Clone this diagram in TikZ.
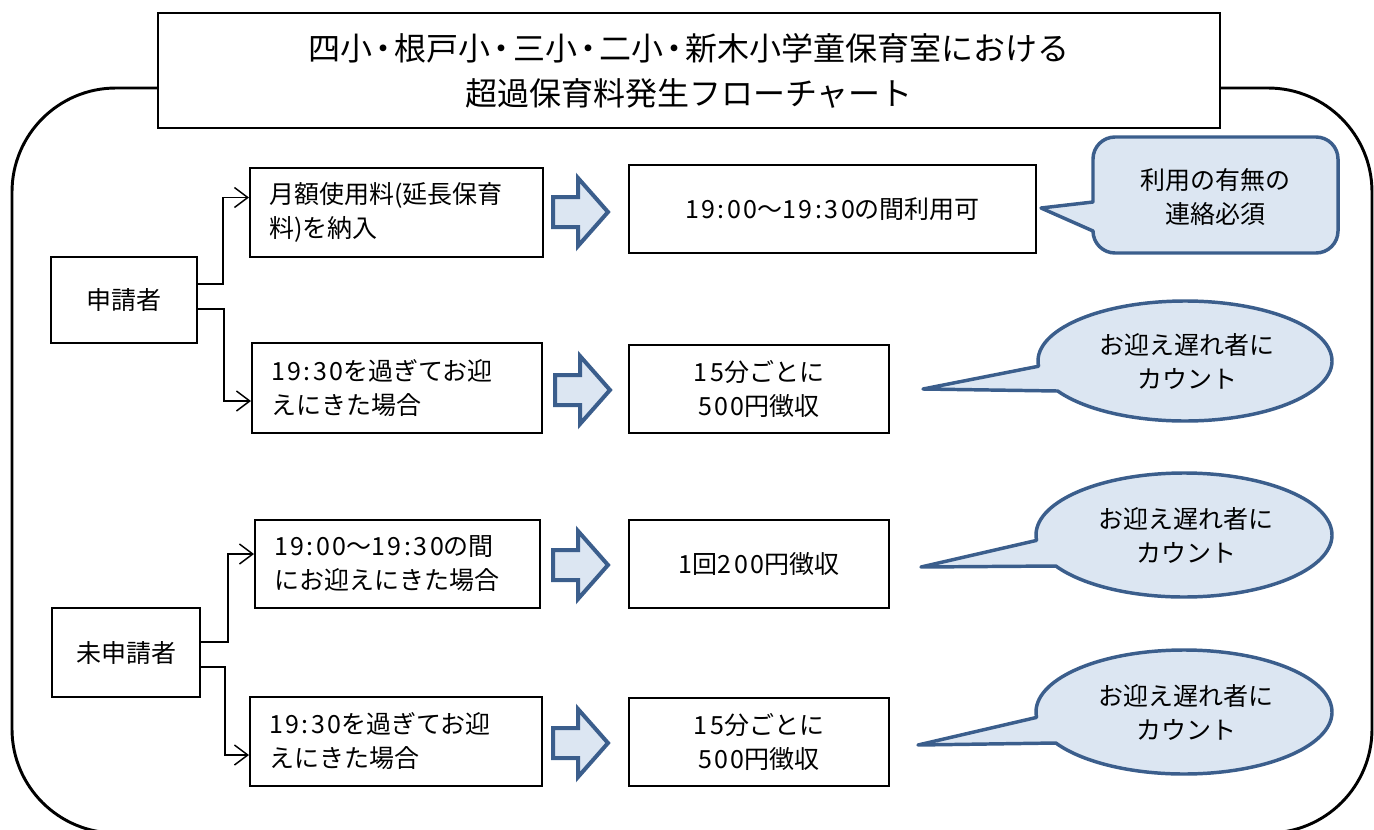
\documentclass[tikz,border=0pt]{standalone}
\usepackage{fontspec}
\setmainfont{Noto Sans CJK JP}
\usetikzlibrary{arrows.meta,calc}
\definecolor{cfill}{HTML}{DCE6F2}
\definecolor{cline}{HTML}{3B5E8C}
\newcommand\mdot{\kern-0.15em・\kern-0.15em}
\newcommand\nm[1]{{\addfontfeature{LetterSpace=10}#1}}
\begin{document}
\begin{tikzpicture}[x=0.75pt,y=-0.75pt,
  txt/.style={font=\fontsize{18.75pt}{25.5pt}\selectfont},
  box/.style={txt, draw, line width=1.5pt, inner sep=0pt},
  lbox/.style={box, align=left, inner xsep=14.25pt},
  cbox/.style={box, align=center},
  conn/.style={line width=1.1pt, -{Straight Barb[length=10pt,width=15pt,line width=1.1pt]}},
  callout/.style={draw=cline, fill=cfill, line width=2.6pt, line join=round},
  barrow/.pic={\draw[line width=3pt, draw=cline, fill=cfill, line join=miter]
     (0,-15) -- (25,-15) -- (25,-34) -- (55,0) -- (25,34) -- (25,15) -- (0,15) -- cycle;}
]
\useasboundingbox (0,0) rectangle (1374,829);
% outer frame
\draw[line width=2.2pt, rounded corners=78pt] (12,88) rectangle (1372,833);
% title
\node[draw, fill=white, line width=2pt, minimum width=796.5pt, minimum height=86.25pt,
      align=center, font=\fontsize{24pt}{33.75pt}\selectfont] (title) at (689,70.5)
  {四小\mdot 根戸小\mdot 三小\mdot 二小\mdot 新木小学童保育室における\\超過保育料発生フローチャート};
% applicant boxes
\node[cbox, minimum width=109.5pt, minimum height=64.5pt] (p1) at (124,300) {申請者};
\node[cbox, minimum width=111pt, minimum height=66.75pt] (p2) at (126,652.5) {未申請者};
% condition boxes
\node[lbox, text width=191.25pt, minimum height=66.75pt] (a1) at (396.5,212.5) {月額使用料(延長保育\\料)を納入};
\node[lbox, text width=189pt, minimum height=67.5pt] (a2) at (397,388) {\nm{19:30}を過ぎてお迎\\えにきた場合};
\node[lbox, text width=185.25pt, minimum height=66pt] (b1) at (397.5,564) {\nm{19:00}〜\nm{19:30}の間\\にお迎えにきた場合};
\node[lbox, text width=190.5pt, minimum height=66.75pt] (b2) at (396,741.5) {\nm{19:30}を過ぎてお迎\\えにきた場合};
% result boxes
\node[cbox, minimum width=305.25pt, minimum height=66pt] (r1) at (832.5,209) {\nm{19:00}〜\nm{19:30}の間利用可};
\node[cbox, minimum width=195pt, minimum height=66pt] (r2) at (759,389) {\nm{15}分ごとに\\\nm{500}円徴収};
\node[cbox, minimum width=195pt, minimum height=66pt] (r3) at (759,564) {\nm{1}回\nm{200}円徴収};
\node[cbox, minimum width=195pt, minimum height=66pt] (r4) at (759,742) {\nm{15}分ごとに\\\nm{500}円徴収};
% connectors
\draw[conn] ($(p1.east)+(0,-16)$) -- ++(25,0) |- ($(a1.west)+(0,-15)$);
\draw[conn] ($(p1.east)+(0,9)$) -- ++(26,0) |- ($(a2.west)+(0,13)$);
\draw[conn] ($(p2.east)+(0,-10.5)$) -- ++(27,0) |- ($(b1.west)+(0,-10)$);
\draw[conn] ($(p2.east)+(0,14.5)$) -- ++(24,0) |- ($(b2.west)+(0,13.5)$);
% block arrows
\pic at (553,212) {barrow};
\pic at (555,390) {barrow};
\pic at (553,565) {barrow};
\pic at (553,743) {barrow};
% rectangular callout
\draw[callout] (1041,208) -- (1093,231) arc[start angle=180, end angle=90, radius=22]
  -- (1316,253) arc[start angle=90, end angle=0, radius=22]
  -- (1338,159) arc[start angle=0, end angle=-90, radius=22]
  -- (1115,137) arc[start angle=270, end angle=180, radius=22]
  -- (1093,202) -- cycle;
\node[txt, align=center] (c1) at (1215,197) {利用の有無の\\連絡必須};
% ellipse callouts
\coordinate (e1) at (1185,361);
\coordinate (e2) at (1184,535);
\coordinate (e3) at (1184,712);
\draw[callout] ($(e1)+(175:147 and 60)$) arc[start angle=175, end angle=510, x radius=147, y radius=60] -- (923,389) -- cycle;
\draw[callout] ($(e2)+(175:148 and 62)$) arc[start angle=175, end angle=510, x radius=148, y radius=62] -- (921,567) -- cycle;
\draw[callout] ($(e3)+(175:148 and 62)$) arc[start angle=175, end angle=510, x radius=148, y radius=62] -- (918,745) -- cycle;
\node[txt, align=center] (t1) at ($(e1)+(2,0)$) {お迎え遅れ者に\\カウント};
\node[txt, align=center] (t2) at ($(e2)+(2,0)$) {お迎え遅れ者に\\カウント};
\node[txt, align=center] (t3) at ($(e3)+(2,0)$) {お迎え遅れ者に\\カウント};
\end{tikzpicture}
\end{document}
